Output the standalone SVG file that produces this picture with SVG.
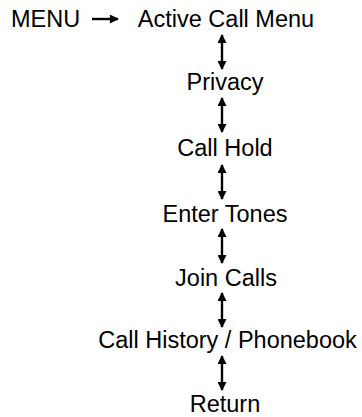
<svg xmlns="http://www.w3.org/2000/svg" width="362" height="417" viewBox="0 0 362 417">
<style>
text{font-family:"Liberation Sans",Arial,sans-serif;font-size:23.5px;fill:#000}
.c{text-anchor:middle}
.l{stroke:#000;stroke-width:2.4;fill:none}
</style>
<defs>
<marker id="ah" viewBox="0 0 10 10" refX="9" refY="5" markerWidth="10" markerHeight="9" orient="auto-start-reverse" markerUnits="userSpaceOnUse">
<path d="M0,0L10,5L0,10z" fill="#000"/>
</marker>
</defs>
<rect width="362" height="417" fill="#fff"/>
<g id="menu"><text x="11" y="27">MENU</text></g>
<g id="active"><text class="c" x="226" y="27">Active Call Menu</text></g>
<g id="privacy"><text class="c" x="225" y="90">Privacy</text></g>
<g id="hold"><text class="c" x="225" y="156">Call Hold</text></g>
<g id="tones"><text class="c" x="225" y="222">Enter Tones</text></g>
<g id="join"><text class="c" x="226" y="286">Join Calls</text></g>
<g id="history"><text class="c" x="227.5" y="348">Call History / Phonebook</text></g>
<g id="return"><text class="c" x="225" y="412">Return</text></g>
<g id="connectors">
<line class="l" x1="92" y1="19" x2="118" y2="19" marker-end="url(#ah)"/>
<line class="l" x1="222" y1="35" x2="222" y2="69" marker-start="url(#ah)" marker-end="url(#ah)"/>
<line class="l" x1="222" y1="98" x2="222" y2="132" marker-start="url(#ah)" marker-end="url(#ah)"/>
<line class="l" x1="222" y1="165" x2="222" y2="199" marker-start="url(#ah)" marker-end="url(#ah)"/>
<line class="l" x1="222" y1="229" x2="222" y2="263" marker-start="url(#ah)" marker-end="url(#ah)"/>
<line class="l" x1="222" y1="293" x2="222" y2="327" marker-start="url(#ah)" marker-end="url(#ah)"/>
<line class="l" x1="222" y1="356" x2="222" y2="390" marker-start="url(#ah)" marker-end="url(#ah)"/>
</g>
</svg>
